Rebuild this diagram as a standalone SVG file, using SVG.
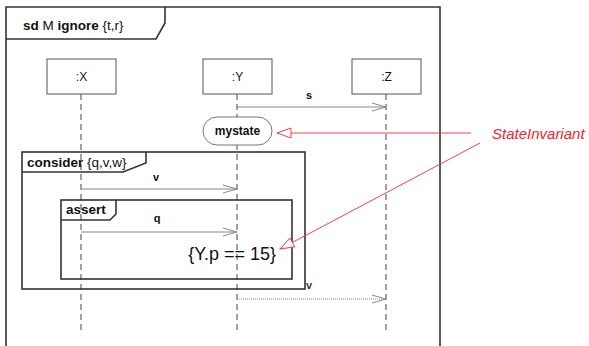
<svg xmlns="http://www.w3.org/2000/svg" width="589" height="346" viewBox="0 0 589 346">
<style>
text{font-family:"Liberation Sans",Arial,sans-serif;fill:#111}
.frame{fill:none;stroke:#333;stroke-width:1.6}
.box{fill:#fff;stroke:#555;stroke-width:1}
.life{stroke:#444;stroke-width:1;stroke-dasharray:6,4}
.msg{stroke:#888;stroke-width:1;fill:none}
.red{stroke:#f0444c;stroke-width:1;fill:none}
.b{font-weight:bold}
</style>
<defs>
<marker id="open" markerWidth="16" markerHeight="10" refX="15" refY="5" orient="auto" markerUnits="userSpaceOnUse">
<path d="M1,1 L15,5 L1,9" fill="none" stroke="#888" stroke-width="1"/>
</marker>
<marker id="redtri" markerWidth="16" markerHeight="12" refX="15" refY="6" orient="auto" markerUnits="userSpaceOnUse">
<path d="M15,6 L1,1 L1,11 Z" fill="#fff" stroke="#f0444c" stroke-width="1"/>
</marker>
</defs>
<rect width="589" height="346" fill="#fff"/>
<g id="frame-sd">
<path class="frame" d="M6,346 V7 H440 V346"/>
<path class="frame" d="M6,39 H156 L165,23 V7"/>
<text x="23" y="30" font-size="13.5"><tspan class="b">sd</tspan> M <tspan class="b">ignore</tspan> {t,r}</text>
</g>
<g id="lifelines">
<line class="life" x1="81" y1="94" x2="81" y2="334"/>
<line class="life" x1="237" y1="94" x2="237" y2="334"/>
<line class="life" x1="386" y1="94" x2="386" y2="334"/>
</g>
<g id="X"><rect class="box" x="47" y="59" width="69" height="35"/><text x="81.5" y="81" font-size="12" text-anchor="middle">:X</text></g>
<g id="Y"><rect class="box" x="203" y="59" width="69" height="35"/><text x="237.5" y="81" font-size="12" text-anchor="middle">:Y</text></g>
<g id="Z"><rect class="box" x="352" y="59" width="69" height="35"/><text x="386.5" y="81" font-size="12" text-anchor="middle">:Z</text></g>
<g id="mystate">
<rect x="203" y="117" width="69" height="28" rx="14" ry="14" fill="#fff" stroke="#777" stroke-width="1"/>
<text x="237.5" y="135" font-size="12" class="b" text-anchor="middle">mystate</text>
</g>
<g id="consider">
<rect class="frame" x="22" y="152" width="283" height="137"/>
<path class="frame" d="M22,172 H123 L146,163 V152"/>
<text x="27" y="167" font-size="13.5"><tspan class="b">consider</tspan> {q,v,w}</text>
</g>
<g id="assert">
<rect class="frame" x="61" y="200" width="231" height="79"/>
<path class="frame" d="M61,220 H110 L116,214 V200"/>
<text x="66" y="214" font-size="13.5" class="b">assert</text>
</g>
<g id="invariant">
<text x="276" y="260" font-size="18" text-anchor="end">{Y.p == 15}</text>
</g>
<g id="connectors">
<line class="msg" x1="237" y1="107" x2="386" y2="107" marker-end="url(#open)"/>
<text x="309" y="99" font-size="11" class="b" text-anchor="middle">s</text>
<line class="msg" x1="81" y1="189" x2="237" y2="189" marker-end="url(#open)"/>
<text x="156" y="181" font-size="11" class="b" text-anchor="middle">v</text>
<line class="msg" x1="81" y1="232" x2="237" y2="232" marker-end="url(#open)"/>
<text x="157" y="222" font-size="11" class="b" text-anchor="middle">q</text>
<line class="msg" x1="237" y1="299" x2="386" y2="299" marker-end="url(#open)" stroke-dasharray="1,1"/>
<text x="309" y="289" font-size="11" class="b" text-anchor="middle" style="fill:#3a3a6a">v</text>
<line class="red" x1="471" y1="133" x2="277" y2="133" marker-end="url(#redtri)"/>
<line class="red" x1="480" y1="143" x2="280" y2="249" marker-end="url(#redtri)"/>
</g>
<g id="note">
<text x="492" y="139" font-size="15" font-style="italic" style="fill:#f0242c">StateInvariant</text>
</g>
</svg>
